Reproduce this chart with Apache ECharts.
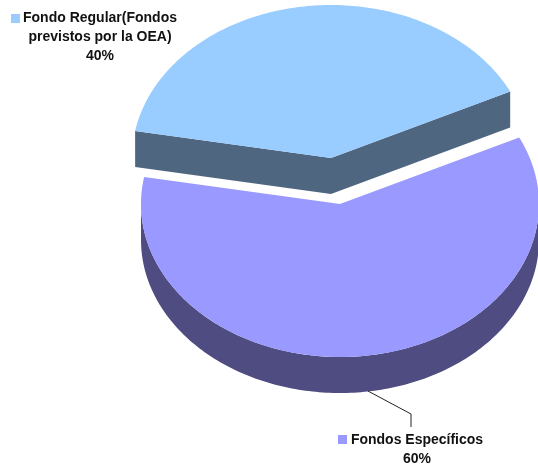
<!DOCTYPE html>
<html>
<head>
<meta charset="utf-8">
<style>
  html, body { margin: 0; padding: 0; background: #fff; }
  #chart { width: 538px; height: 465px; }
</style>
<script src="https://cdn.jsdelivr.net/npm/echarts@6/dist/echarts.min.js"></script>
</head>
<body>
<div id="chart"></div>
<script>
const categories = ['Fondo Regular(Fondos\nprevistos por la OEA)', 'Fondos Específicos'];
const values = [40, 60];
const topColors = ['#99CCFF', '#9999FF'];
const sideColors = ['#4F6681', '#4E4C80'];

// pie geometry, the ellipse stands in for the tilted 3D pie
const rx = 199, ry = 153, depth = 36;
const startDeg = 25.8;
const total = values.reduce((a, b) => a + b, 0);
const centers = [[331, 158], [340, 204]];
const labelPos = [[100, 9], [417, 431]];
const keyPos = [[11, 14], [338, 435]];
const leader = [null, [[368, 391], [411, 414], [411, 427]]];

const rim = (cx, cy, deg) => {
  const a = deg * Math.PI / 180;
  return [cx + rx * Math.cos(a), cy - ry * Math.sin(a)];
};

const arc = (cx, cy, from, to) => {
  const pts = [];
  for (let d = from; d < to; d += 1) pts.push(rim(cx, cy, d));
  pts.push(rim(cx, cy, to));
  return pts;
};

const renderSlice = (params, api) => {
  const i = api.value(0);
  const [cx, cy] = centers[i];
  const before = values.slice(0, i).reduce((a, b) => a + b, 0);
  const from = startDeg + before / total * 360;
  const to = from + api.value(1) / total * 360;
  const children = [];
  const side = { fill: sideColors[i] };

  // walls first, top face goes over them
  if (to <= 180) {
    const a = rim(cx, cy, from), b = rim(cx, cy, to), c = [cx, cy];
    children.push({ type: 'polygon', shape: { points: [a, c, [cx, cy + depth], [a[0], a[1] + depth]] }, style: side });
    children.push({ type: 'polygon', shape: { points: [b, c, [cx, cy + depth], [b[0], b[1] + depth]] }, style: side });
  } else {
    const front = arc(cx, cy, Math.max(from, 180), Math.min(to, 360));
    const low = front.map(p => [p[0], p[1] + depth]).reverse();
    children.push({ type: 'polygon', shape: { points: front.concat(low) }, style: side });
  }
  children.push({
    type: 'polygon',
    shape: { points: [[cx, cy]].concat(arc(cx, cy, from, to)) },
    style: { fill: topColors[i] }
  });

  if (leader[i]) {
    children.push({ type: 'polyline', shape: { points: leader[i] }, style: { stroke: '#222', lineWidth: 1, fill: null } });
  }
  children.push({
    type: 'rect',
    shape: { x: keyPos[i][0], y: keyPos[i][1], width: 9, height: 9 },
    style: { fill: topColors[i] }
  });
  children.push({
    type: 'text',
    style: {
      x: labelPos[i][0],
      y: labelPos[i][1],
      text: categories[i] + '\n' + Math.round(api.value(1) / total * 100) + '%',
      font: 'bold 14px "Liberation Sans", Arial, sans-serif',
      lineHeight: 19,
      fill: '#111',
      align: 'center',
      verticalAlign: 'top'
    }
  });
  return { type: 'group', children };
};

const chart = echarts.init(document.getElementById('chart'));
chart.setOption({
  animation: false,
  series: [{
    type: 'custom',
    coordinateSystem: 'none',
    silent: true,
    clip: false,
    renderItem: renderSlice,
    data: values.map((v, i) => [i, v])
  }]
});
</script>
</body>
</html>
